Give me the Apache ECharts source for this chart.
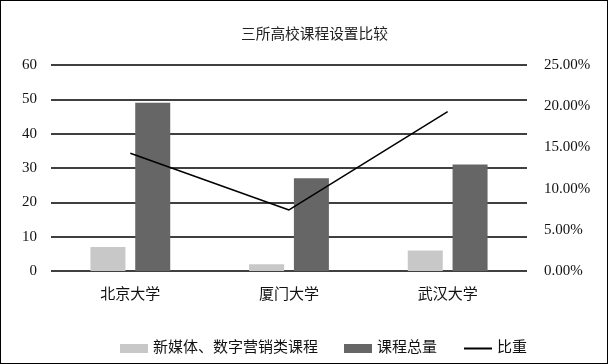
<!DOCTYPE html>
<html><head><meta charset="utf-8">
<script src="https://cdn.jsdelivr.net/npm/echarts@6/dist/echarts.min.js"></script>
<style>html,body{margin:0;padding:0;background:#fff}#c{width:608px;height:364px;box-sizing:border-box;border:1px solid #000}</style>
</head><body><div id="c"></div>
<script>
var categories = ['北京大学', '厦门大学', '武汉大学'];
var newMedia = [7, 2, 6];
var totalCourses = [49, 27, 31];
var ratio = [14.29, 7.41, 19.35];
var leftTicks = [0, 10, 20, 30, 40, 50, 60];
var rightTicks = [0, 5, 10, 15, 20, 25];

var serif = '"Liberation Serif", "Noto Sans CJK SC", serif';
var chart = echarts.init(document.getElementById('c'));
chart.setOption({
  animation: false,
  title: {text: '三所高校课程设置比较', left: 235, top: 22,
    textStyle: {fontSize: 14.7, fontWeight: 'normal', color: '#222', fontFamily: serif}},
  legend: {bottom: 2, left: 114, itemWidth: 28, itemHeight: 9, itemGap: 26,
    textStyle: {fontSize: 15, color: '#111', fontFamily: serif},
    data: [{name: '新媒体、数字营销类课程', icon: 'rect'}, {name: '课程总量', icon: 'rect'},
      {name: '比重', itemStyle: {opacity: 0}}]},
  grid: {left: 50, right: 80, top: 64, bottom: 92},
  xAxis: {type: 'category', data: categories,
    axisLine: {show: false}, axisTick: {show: false},
    axisLabel: {fontSize: 15, color: '#111', margin: 17, fontFamily: serif}},
  yAxis: [
    {type: 'value', min: 0, max: 60, interval: 10,
      axisLine: {show: false}, axisTick: {show: false},
      axisLabel: {fontSize: 15, color: '#111', margin: 14, fontFamily: serif},
      splitLine: {lineStyle: {color: '#000', width: 1.6}}},
    {type: 'value', min: 0, max: 25, interval: 5, position: 'right',
      axisLine: {show: false}, axisTick: {show: false},
      axisLabel: {fontSize: 15, color: '#111', margin: 17, fontFamily: serif,
        formatter: function(v){return v.toFixed(2) + '%';}},
      splitLine: {show: false}}
  ],
  series: [
    {name: '新媒体、数字营销类课程', type: 'bar', data: newMedia, barWidth: 35, barGap: '28%',
      itemStyle: {color: '#c8c8c8'}},
    {name: '课程总量', type: 'bar', data: totalCourses, barWidth: 35,
      itemStyle: {color: '#666666'}},
    {name: '比重', type: 'line', yAxisIndex: 1, data: ratio, showSymbol: false, symbol: 'none',
      lineStyle: {color: '#000', width: 1.5}, itemStyle: {color: '#000'}}
  ]
});
</script></body></html>
